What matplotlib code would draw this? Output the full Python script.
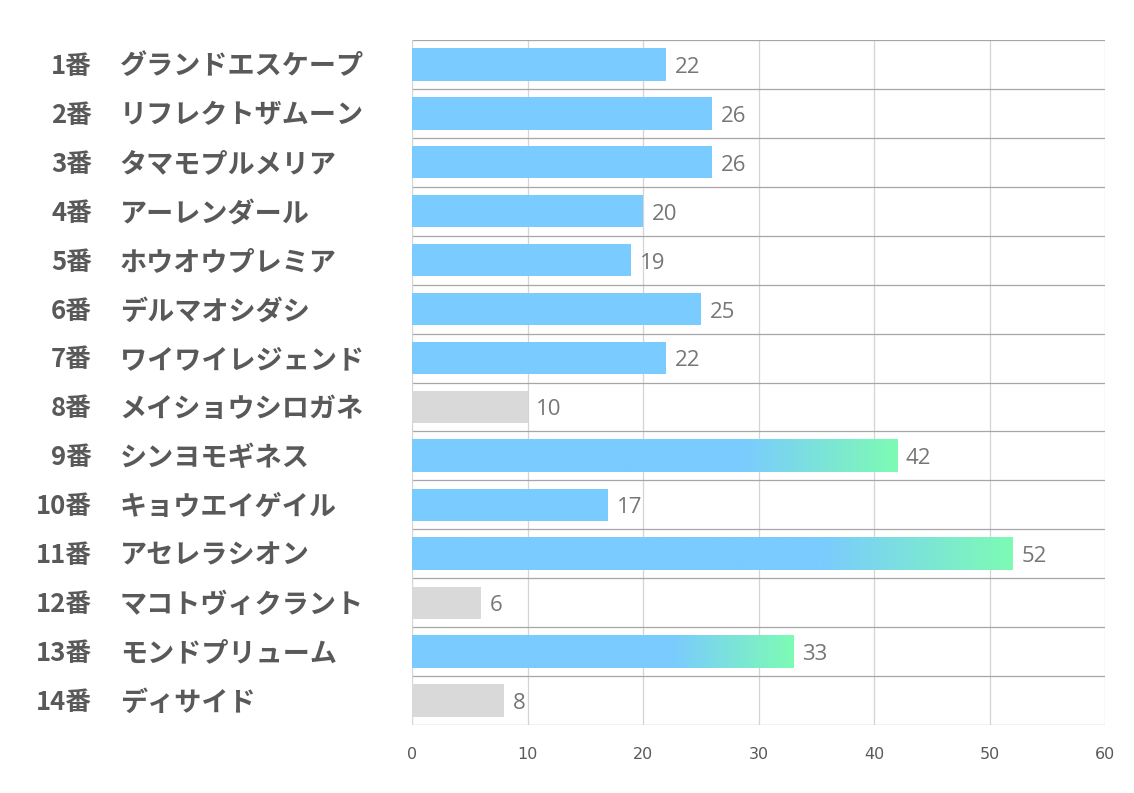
import matplotlib.pyplot as plt
import numpy as np
from matplotlib.colors import to_rgb

plt.rcParams['font.family'] = ['Noto Sans CJK JP', 'DejaVu Sans']

numbers = ["1番", "2番", "3番", "4番", "5番", "6番", "7番", "8番", "9番", "10番",
           "11番", "12番", "13番", "14番"]
names = ["グランドエスケープ", "リフレクトザムーン", "タマモプルメリア", "アーレンダール",
         "ホウオウプレミア", "デルマオシダシ", "ワイワイレジェンド", "メイショウシロガネ",
         "シンヨモギネス", "キョウエイゲイル", "アセレラシオン", "マコトヴィクラント",
         "モンドプリューム", "ディサイド"]
values = [22, 26, 26, 20, 19, 25, 22, 10, 42, 17, 52, 6, 33, 8]
# bar style: "blue", "grad" (blue->green), "gray"
kinds = ["blue", "blue", "blue", "blue", "blue", "blue", "blue", "gray", "grad",
         "blue", "grad", "gray", "grad", "gray"]
xticks = [0, 10, 20, 30, 40, 50, 60]

blue = "#7ACBFF"
green = "#7DFBB4"
gray = "#D9D9D9"

fig = plt.figure(figsize=(11.34, 7.93), dpi=100)
ax = fig.add_axes([412 / 1134, 1 - 725 / 793, (1105 - 412) / 1134, (725 - 40) / 793])

n = len(values)
ys = np.arange(n)
h = 0.66

c1 = np.array(to_rgb(blue))
c2 = np.array(to_rgb(green))
for y, v, k in zip(ys, values, kinds):
    if k == "gray":
        ax.barh(y, v, height=h, color=gray, zorder=2)
    elif k == "blue":
        ax.barh(y, v, height=h, color=blue, zorder=2)
    else:
        t = np.linspace(0, 1, 256)
        f = np.clip((t - 0.68) / 0.32, 0, 1)
        img = c1[None, :] * (1 - f[:, None]) + c2[None, :] * f[:, None]
        ax.imshow(img[None, :, :], extent=(0, v, y + h / 2, y - h / 2),
                  aspect='auto', zorder=2, interpolation='bilinear')
    ax.text(v + 0.75, y + 0.06, str(v), va='center', ha='left', fontsize=16,
            color='#767676', family=['Open Sans', 'DejaVu Sans'])

ax.set_xlim(0, 60)
ax.set_ylim(n - 0.5, -0.5)
ax.set_aspect('auto')
ax.set_xticks(xticks)
ax.set_xticklabels([str(x) for x in xticks], fontsize=11.5, color='#595959',
                   family=['Liberation Sans Narrow', 'DejaVu Sans'])
ax.tick_params(axis='x', length=0, pad=16)
ax.set_yticks([])
for x in xticks[1:]:
    ax.axvline(x, color='#D4D4D4', lw=0.9, zorder=1)
for b in np.arange(n + 1) - 0.5:
    ax.axhline(b, color='#A6A6A6', lw=0.9, zorder=1)
for s in ax.spines.values():
    s.set_visible(False)
ax.axvline(0, color='#D4D4D4', lw=0.9, zorder=1)

for y, num, name in zip(ys, numbers, names):
    ax.text(-27.7, y + 0.04, num, ha='right', va='center', fontsize=18.5,
            fontweight='bold', color='#595959')
    ax.text(-25.3, y + 0.04, name, ha='left', va='center', fontsize=19.5,
            fontweight='bold', color='#595959')

fig.savefig("out.png", dpi=100, facecolor='white')
